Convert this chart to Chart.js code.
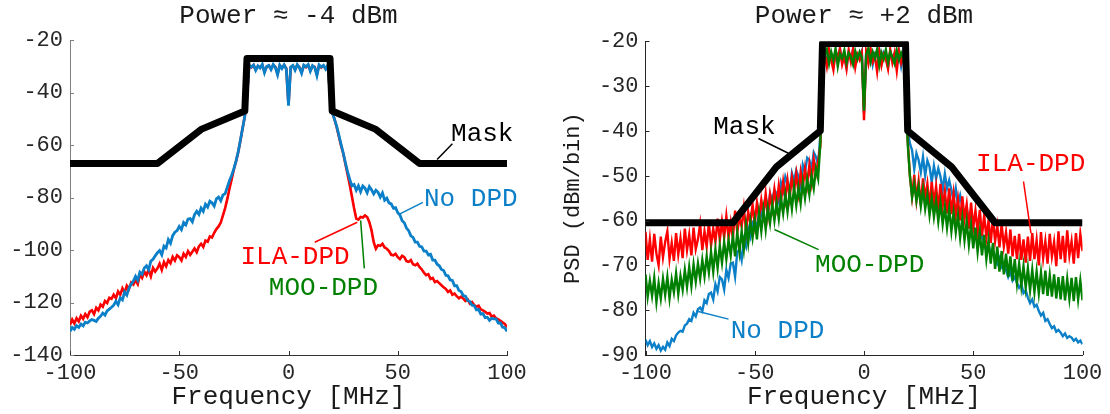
<!DOCTYPE html>
<html>
<head>
<meta charset="utf-8">
<script src="https://cdn.jsdelivr.net/npm/chart.js@4.4.0/dist/chart.umd.min.js"></script>
<style>
  html, body { margin: 0; padding: 0; background: #fff; }
  #wrap { display: flex; width: 1110px; height: 414px; }
  canvas { display: block; }
</style>
</head>
<body>
<div id="wrap">
  <canvas id="chart-left" width="555" height="414"></canvas>
  <canvas id="chart-right" width="555" height="414"></canvas>
</div>
<script>
// 0) axes + tick labels
const FONT = '"Liberation Mono", "Courier New", monospace';
const X_TICKS   = [-100, -50, 0, 50, 100];
const Y_TICKS_L = [-140, -120, -100, -80, -60, -40, -20];
const Y_TICKS_R = [-90, -80, -70, -60, -50, -40, -30, -20];

// frequency grid of the spectra, 1 MHz bins from -100 to 100
const FREQ = Array.from({ length: 201 }, (_, i) => i - 100);

// spectral masks (corner points)
const MASK_F   = [-100, -60, -40, -20, -19, 19, 20, 40, 60, 100];
const MASK_L   = [-67, -67, -54, -47, -27, -27, -47, -54, -67, -67];
const MASK_R   = [-60.5, -60.5, -48, -40, -20.5, -20.5, -40, -48, -60.5, -60.5];

// Power ~ -4 dBm : No DPD (dBm/bin)
const NODPD_L = [
  -131, -129.5, -130.2, -128.8, -129.5, -128.2, -128.9, -127.5, -127.8, -127,      // -100..-91
  -126.5, -126.8, -127.2, -126, -125.2, -124, -124.8, -123.2, -122.5, -121.8,      // -90..-81
  -121, -119.5, -120.8, -118.2, -119, -116, -117.2, -114.5, -113, -111.8,          // -80..-71
  -110, -111.5, -108.4, -109.2, -106.8, -106, -107.5, -104.2, -103.5, -102.2,      // -70..-61
  -101, -100.2, -101.8, -98.5, -99.2, -96, -97.4, -94.5, -93.2, -92.6,             // -60..-51
  -91, -92.2, -89.5, -90.4, -88.2, -88, -89.2, -86.5, -85.2, -86.4,                // -50..-41
  -84, -85.2, -82.5, -83.6, -81.4, -82, -83.2, -80.5, -79.8, -81.2,                // -40..-31
  -79, -78.5, -76, -73.5, -71.5, -69, -66, -62.5, -58, -53.5,                      // -30..-21
  -49, -41,                                                                         // -20,-19
  -29.5, -30.2, -29.4, -31.5, -29.8, -30.6, -29.2, -32.4, -30, -29.6, -31.2, -29.3, -30.4, -33.2, -29.5, -30.8, -29.4, -31, // -18..-1
  -45,                                                                              // 0
  -30.2, -29.6, -31.4, -29.3, -30.5, -32.6, -29.5, -30.1, -29.3, -31.8, -29.7, -30.4, -33.5, -29.4, -30.2, -29.6, -31, -29.4, // 1..18
  -40, -47.5,                                                                       // 19,20
  -50, -52.7, -56, -59.5, -62.8, -66.5, -70, -73, -75.5, -75,                      // 21..30
  -77.2, -75.5, -77.8, -75.6, -76.4, -78.2, -75.8, -77, -78.6, -77.2,              // 31..40
  -78, -79.8, -78.2, -81, -80.2, -82, -82.4, -84, -83.8, -85.8,                    // 41..50
  -86.6, -88.8, -89.6, -91.6, -92.6, -94.6, -95.2, -97, -97, -98.6,                // 51..60
  -98.8, -100.4, -100.4, -101.8, -101.6, -103.8, -103.8, -105.4, -106, -107.4,     // 61..70
  -107.8, -109.6, -109.8, -111.4, -111.6, -113.6, -113.6, -115.4, -115.8, -117.4,  // 71..80
  -117.6, -119.2, -119.6, -121, -121.2, -122.8, -122.6, -124.4, -124.2, -125.8,    // 81..90
  -125.6, -126.8, -126, -126.2, -126.2, -127.8, -127.8, -129.4, -129.6, -131       // 91..100
];

// Power ~ -4 dBm : ILA-DPD
const ILA_L = [
  -128.5, -126.5, -128, -126, -127.2, -125, -126.2, -124.4, -125.6, -123.5,
  -123, -124.4, -122, -123, -120.8, -121.6, -119.4, -120.2, -118.2, -118.6,
  -117, -118.4, -115.8, -117, -114.6, -116.2, -113.6, -114.8, -112.4, -113.2,
  -111.5, -113, -109.4, -110.6, -108.2, -109.6, -107.4, -110, -106.8, -108.2,
  -107, -105.2, -107.6, -104.6, -106.2, -103.8, -105, -102.6, -104, -102,
  -102.7, -104, -101.4, -102.6, -100.4, -101.8, -100.6, -99.4, -100.8, -98.6,
  -97.6, -98.8, -96.4, -96.8, -94.8, -95.2, -93.4, -92, -91, -89.5,
  -86.8, -84, -80.5, -76.5, -73, -69.2, -66.2, -62.6, -58.2, -53.6,
  -49, -41,
  -29.6, -30.4, -29.5, -31.2, -29.9, -30.4, -29.4, -32, -30.2, -29.7, -31, -29.5, -30.2, -32.8, -29.6, -30.6, -29.5, -30.8,
  -44.5,
  -30.4, -29.8, -31.2, -29.5, -30.3, -32.2, -29.7, -30.3, -29.5, -31.5, -29.9, -30.2, -33, -29.6, -30.4, -29.8, -30.8, -29.6,
  -40.5, -47.5,
  -50, -53, -56.5, -60, -63, -67, -71, -75, -79.5, -84,
  -88, -88.4, -87.4, -87.6, -86.8, -87.4, -89.4, -92.5, -97, -99.5,
  -98.2, -98.4, -97.6, -99, -99.5, -100.4, -101.8, -102, -101.4, -102.7,
  -103.4, -102.2, -102.7, -104.2, -104.5, -103.8, -105.4, -105.8, -105.2, -106.5,
  -107.4, -108.6, -109.6, -109.2, -111, -110.6, -112.2, -111.8, -112.6, -113.4,
  -114.2, -114.8, -116, -115.4, -117, -116.6, -117.6, -118.4, -117.8, -118.5,
  -119.4, -118.8, -120.4, -119.8, -121, -121.6, -121.2, -122.6, -123, -123.5,
  -124.2, -124, -125.4, -125, -126, -126.4, -127, -127.6, -128.2, -129.4
];

// Power ~ -4 dBm : MOO-DPD lies under the ILA-DPD trace everywhere in this plot
const MOO_L = ILA_L.slice();

// Power ~ +2 dBm : No DPD
const NODPD_R = [
  -86.6, -87.8, -86.9, -88.2, -87.4, -88.6, -87.8, -89, -88.2, -88.8,
  -87.2, -88, -86.4, -86.9, -85.6, -85, -84.6, -84.8, -83.4, -83,
  -82, -82.4, -80.6, -81.4, -79.8, -79.4, -80.2, -77.8, -78.4, -76.4,
  -76.1, -77.6, -74.2, -75.8, -72.6, -73.1, -75.4, -71, -72.8, -69.6,
  -69.4, -72.5, -67, -66.5, -68.8, -64.3, -65.8, -61.8, -63.6, -60.4,
  -59.8, -62.4, -57.6, -58.8, -56.2, -56.1, -58.4, -54, -55.6, -53.2,
  -53.9, -55.8, -51.6, -53.4, -50.2, -51.7, -53.6, -49.4, -51.2, -48.8,
  -50.2, -52.4, -47.6, -49.2, -46, -46.5, -48.6, -44.8, -45.8, -47.6,
  -41, -26,
  -22.4, -24.8, -22.1, -23.6, -25.4, -22.6, -23.2, -21.8, -24.6, -22.9, -25.8, -22.3, -23.7, -21.9, -24.2, -22.8, -23.5, -22.2,
  -36,
  -22.6, -24.3, -22.1, -25.2, -22.8, -23.4, -21.9, -24.8, -22.5, -23.3, -25.6, -22.2, -23.9, -22.7, -24.4, -22.3, -25.5, -22.6,
  -27, -40,
  -42.8, -44.3, -48.5, -45, -46.5, -49.2, -45.8, -50, -46.6, -48,
  -51.4, -47.8, -50.6, -48.4, -50.2, -53.2, -49.6, -52.8, -51, -53.2,
  -55.6, -52.8, -56.4, -54.4, -56.9, -59.2, -57, -60.6, -58.8, -61.3,
  -63.2, -61.6, -64.4, -63, -65, -66.8, -65.2, -68, -66.6, -68,
  -69.6, -68.4, -70.4, -69.8, -71, -72.6, -71.4, -73.4, -72.6, -73.9,
  -75, -74.2, -76.2, -75.6, -77.2, -78.4, -77.6, -79.2, -78.8, -80.2,
  -81.2, -80.6, -82.4, -82, -83.1, -84, -83.6, -84.8, -84.4, -85,
  -85.8, -85.2, -86.2, -85.8, -86.1, -86.8, -86.4, -87.2, -86.8, -87.6
];

// Power ~ +2 dBm : ILA-DPD
const ILA_R = [
  -62.5, -68.8, -64.2, -69.2, -63, -67.4, -70, -63.6, -68.2, -64.8,
  -62.4, -68.6, -65, -69, -62.8, -67.6, -64, -68.4, -61.8, -66.6,
  -63.2, -67.8, -61.6, -66.4, -64.2, -60.8, -66.6, -62.4, -65.8, -60.6,
  -65.6, -61.8, -64.8, -59.6, -64.4, -60.2, -63.8, -59, -63.8, -60.4,
  -64, -57.8, -62.6, -59.4, -61.4, -57.2, -62.4, -58, -60.6, -56.4,
  -60.8, -56, -59.4, -55.4, -58.6, -54, -58.8, -54.2, -57.2, -53,
  -56.8, -52.2, -55.8, -51.4, -55.2, -51, -54.8, -50.4, -53.4, -49.6,
  -53.8, -49.2, -52.6, -48.4, -52, -47.6, -51.4, -46.4, -49.6, -46.8,
  -43.5, -29,
  -22.8, -25.6, -21.8, -24.2, -26.4, -22.4, -23.8, -21.6, -25.2, -23.4, -26.2, -22, -24.6, -21.7, -25.8, -23, -24.2, -22.6,
  -37.6,
  -22.4, -25, -21.8, -24.6, -23.2, -26.8, -22.2, -25.4, -23, -24, -26.2, -21.8, -24.8, -22.6, -26.6, -22.2, -24.8, -23,
  -29, -42,
  -50, -54.6, -49.8, -55.4, -51.2, -56.6, -50.6, -55, -51.8, -57,
  -51.4, -56.2, -52.4, -57.6, -51.8, -56.8, -53.4, -58.4, -52.8, -58.6,
  -54, -58.8, -55.2, -60, -54.6, -59.6, -56.4, -61.8, -56, -61.6,
  -57.8, -62.4, -57.6, -63.4, -58.8, -63.8, -60, -65, -59.4, -64.6,
  -61.2, -66, -60.8, -65.8, -62.6, -67.4, -62, -68, -63.4, -68.6,
  -63, -68.8, -64.2, -69.4, -63.6, -69, -62.8, -68.6, -64.4, -70,
  -62.6, -68.4, -64.6, -69.6, -63, -68, -64.8, -70.2, -62.4, -68.6,
  -63.4, -69.4, -62.2, -67.8, -64.6, -69.6, -62.8, -68.4, -63, -66.8
];

// Power ~ +2 dBm : MOO-DPD
const MOO_R = [
  -72, -77, -73.4, -76.8, -72.8, -78.2, -74, -77.4, -73, -76.6,
  -72.6, -77.4, -73.2, -76, -71.8, -76.4, -72.4, -75.4, -71, -74.8,
  -70.4, -74.6, -69.8, -73.6, -69.6, -73, -68.8, -72.4, -68, -71.6,
  -67, -71.4, -66.4, -70.6, -65.6, -69.4, -64.8, -68.6, -64.4, -67.8,
  -63.4, -68, -62.6, -67, -62.4, -66.4, -61, -65, -60.2, -63.8,
  -59.8, -64.2, -58.4, -62.4, -57.6, -62, -57.2, -60.6, -56.4, -60,
  -56, -59.6, -55, -58.4, -54.2, -58, -53.6, -57.4, -52.6, -56.6,
  -52.6, -56.2, -51.4, -55, -50.8, -54.2, -50, -52.8, -48.4, -50.6,
  -42.8, -28.5,
  -23.2, -21.8, -25, -22.4, -24.2, -21.6, -25.6, -22.8, -23.8, -22, -24.8, -22.6, -23.4, -25.2, -22.2, -24, -22.4, -23.6,
  -35.5,
  -23, -21.6, -24.6, -22.4, -23.8, -21.8, -25.4, -22.6, -24, -21.9, -24.8, -22.4, -23.6, -25, -22, -24.2, -22.6, -23.8,
  -28.5, -42.8,
  -50, -54.8, -51.8, -55.6, -52.4, -56.8, -53, -57.4, -54.2, -58.8,
  -55, -59.2, -55.6, -60.2, -56, -60.8, -57, -61.6, -57.4, -62.4,
  -58.2, -62.6, -58.8, -63.8, -59.4, -64.4, -60.2, -65.4, -61, -66.2,
  -61.6, -67, -62.6, -67.8, -63.2, -68.6, -64.4, -69.6, -65, -70.8,
  -65.8, -71.4, -66.8, -72, -67.4, -72.6, -68, -73.4, -68.6, -74,
  -69.6, -74.6, -70.2, -75, -70.6, -75.6, -71, -76, -71.4, -76.2,
  -71.6, -76.4, -71.2, -76.8, -72.2, -77, -72, -77.4, -72.6, -77.6,
  -72.4, -77.8, -73, -77.4, -72.8, -78, -72.6, -77.6, -73.4, -77.8
];

const BLUE = '#0b7fc7', RED = '#ff0000', GREEN = '#008000', BLACK = '#000000';

// text labels with their pointer lines, in data units
const NOTES_L = [
  { text: 'Mask',    color: BLACK, x: 74.4, y: -55.8,  line: [75, -59.5, 68, -65.5] },
  { text: 'No DPD',  color: BLUE,  x: 62,   y: -80.5,  line: [61.5, -81.8, 51, -86.2] },
  { text: 'ILA-DPD', color: RED,   x: -22,  y: -102.7, line: [12, -97, 31.5, -89.4] },
  { text: 'MOO-DPD', color: GREEN, x: -9,   y: -114.4, line: [34.7, -107, 33, -88.7] }
];
const NOTES_R = [
  { text: 'Mask',    color: BLACK, x: -69,   y: -39.1, line: [-48.3, -41.7, -34.6, -45] },
  { text: 'ILA-DPD', color: RED,   x: 51.3,  y: -47.4, line: [73, -51.3, 76.4, -62.8] },
  { text: 'MOO-DPD', color: GREEN, x: -22.4, y: -70,   line: [-20.8, -66.5, -41, -62] },
  { text: 'No DPD',  color: BLUE,  x: -61,   y: -84.6, line: [-62, -82, -76.7, -80.2] }
];

const pts = (xs, ys) => xs.map((x, i) => ({ x, y: ys[i] }));

function trace(xs, ys, color, width) {
  return { data: pts(xs, ys), borderColor: color, borderWidth: width,
           pointRadius: 0, tension: 0, fill: false };
}
function mask(ys) {
  return { data: pts(MASK_F, ys), borderColor: BLACK, borderWidth: 7,
           borderJoinStyle: 'round', pointRadius: 0, tension: 0, fill: false };
}

// inward (MATLAB style) tick marks
const inwardTicks = {
  id: 'inwardTicks',
  afterDraw(chart) {
    const { ctx, chartArea: a, scales: { x, y } } = chart;
    ctx.save();
    ctx.lineWidth = 1;
    ctx.strokeStyle = x.options.border.color;
    x.ticks.forEach(t => {
      const px = Math.round(x.getPixelForValue(t.value)) + 0.5;
      ctx.beginPath(); ctx.moveTo(px, a.bottom); ctx.lineTo(px, a.bottom - 4); ctx.stroke();
    });
    ctx.strokeStyle = y.options.border.color;
    y.ticks.forEach(t => {
      const py = Math.round(y.getPixelForValue(t.value)) + 0.5;
      ctx.beginPath(); ctx.moveTo(a.left, py); ctx.lineTo(a.left + 4, py); ctx.stroke();
    });
    ctx.restore();
  }
};

// text + pointer annotations
const notes = {
  id: 'notes',
  afterDatasetsDraw(chart, args, opts) {
    const { ctx, scales: { x, y } } = chart;
    ctx.save();
    ctx.font = `26px ${FONT}`;
    ctx.textAlign = 'left';
    ctx.textBaseline = 'middle';
    (opts.items || []).forEach(n => {
      const [x1, y1, x2, y2] = n.line;
      ctx.strokeStyle = n.color;
      ctx.lineWidth = 1.5;
      ctx.beginPath();
      ctx.moveTo(x.getPixelForValue(x1), y.getPixelForValue(y1));
      ctx.lineTo(x.getPixelForValue(x2), y.getPixelForValue(y2));
      ctx.stroke();
      ctx.fillStyle = n.color;
      ctx.fillText(n.text, x.getPixelForValue(n.x), y.getPixelForValue(n.y));
    });
    ctx.restore();
  }
};

function drawPanel(id, c) {
  const canvas = document.getElementById(id);
  return new Chart(canvas.getContext('2d'), {
    type: 'line',
    data: { datasets: c.datasets },
    options: {
      responsive: false,
      animation: false,
      events: [],
      layout: { padding: { left: 0, right: c.padRight, top: 0, bottom: 0 } },
      plugins: {
        legend: { display: false },
        tooltip: { enabled: false },
        title: { display: true, text: c.title, fullSize: false, color: '#1a1a1a',
                 font: { family: FONT, size: 26, weight: 'normal' },
                 padding: { top: 1, bottom: c.titleGap } },
        notes: { items: c.notes }
      },
      scales: {
        x: {
          type: 'linear', min: -100, max: 100,
          afterBuildTicks: s => { s.ticks = X_TICKS.map(v => ({ value: v })); },
          afterFit: s => { s.height = 59; },
          grid: { drawOnChartArea: false, drawTicks: false },
          border: { color: c.xAxisColor, width: 1 },
          ticks: { padding: 5, color: '#262626', font: { family: FONT, size: 22 } },
          title: { display: true, text: 'Frequency [MHz]', color: '#1a1a1a',
                   font: { family: FONT, size: 26 }, padding: { top: 0, bottom: 1.4 } }
        },
        y: {
          type: 'linear', min: c.yMin, max: -20,
          afterBuildTicks: s => { s.ticks = c.yTicks.map(v => ({ value: v })); },
          afterFit: s => { s.width = c.yWidth; },
          grid: { drawOnChartArea: false, drawTicks: false },
          border: { color: c.yAxisColor, width: 1 },
          ticks: { padding: 7, color: '#262626', font: { family: FONT, size: 22 } },
          title: { display: !!c.yTitle, text: c.yTitle || '', color: '#1a1a1a',
                   font: { family: FONT, size: 22 }, padding: { top: 5, bottom: 0 } }
        }
      }
    },
    plugins: [inwardTicks, notes]
  });
}

// first dataset is drawn on top
drawPanel('chart-left', {
  title: 'Power \u2248 -4 dBm', titleGap: 8, padRight: 48, yWidth: 70,
  yMin: -140, yTicks: Y_TICKS_L, xAxisColor: '#333333', yAxisColor: '#808080',
  notes: NOTES_L,
  datasets: [
    mask(MASK_L),
    trace(FREQ, NODPD_L, BLUE, 2.8),
    trace(FREQ, ILA_L, RED, 2.6),
    trace(FREQ, MOO_L, GREEN, 1.5)
  ]
});

drawPanel('chart-right', {
  title: 'Power \u2248 +2 dBm', titleGap: 9, padRight: 27.5, yWidth: 90.5,
  yMin: -90, yTicks: Y_TICKS_R, xAxisColor: '#262626', yAxisColor: '#262626',
  yTitle: 'PSD (dBm/bin)',
  notes: NOTES_R,
  datasets: [
    mask(MASK_R),
    trace(FREQ, MOO_R, GREEN, 2.4),
    trace(FREQ, ILA_R, RED, 2.4),
    trace(FREQ, NODPD_R, BLUE, 2.4)
  ]
});
</script>
</body>
</html>
